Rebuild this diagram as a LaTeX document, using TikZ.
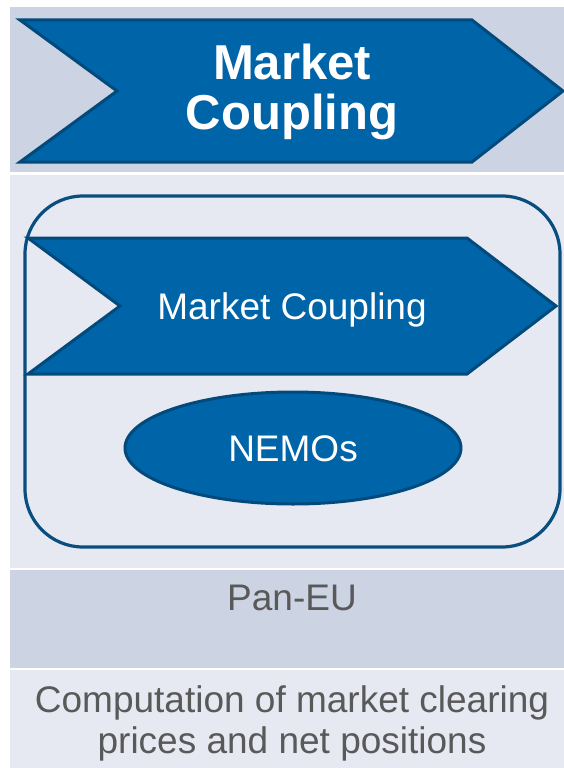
\documentclass[tikz,border=0pt]{standalone}
\usepackage{fontspec}
\setmainfont{Liberation Sans}
\usetikzlibrary{shapes.geometric}
\definecolor{rowdark}{RGB}{204,211,226}
\definecolor{rowlight}{RGB}{230,233,241}
\definecolor{chevfill}{RGB}{0,100,168}
\definecolor{chevline}{RGB}{2,74,124}
\definecolor{framecol}{RGB}{10,78,128}
\definecolor{graytext}{RGB}{89,89,89}
\tikzset{
  rowbox/.style={draw=none},
  chevron/.style={fill=chevfill,draw=chevline,line width=3pt,line join=miter},
  toptext/.style={anchor=base,inner sep=0pt,text=white,font=\fontsize{49}{49}\selectfont\bfseries},
  whitetext/.style={anchor=base,inner sep=0pt,text=white,font=\fontsize{37}{41}\selectfont},
  graylabel/.style={anchor=base,inner sep=0pt,text=graytext,font=\fontsize{37}{41}\selectfont},
  framebox/.style={draw=framecol,line width=3.2pt,rounded corners=58pt},
  nemo/.style={ellipse,fill=chevfill,draw=chevline,line width=3pt,minimum width=336pt,minimum height=112pt,inner sep=0pt}
}
\begin{document}
\begin{tikzpicture}[x=1pt,y=-1pt]
\useasboundingbox[fill=white] (0,0) rectangle (564,768);
% row backgrounds
\fill[rowdark]  (10,7)   rectangle (564,172);
\fill[rowlight] (10,175) rectangle (564,568);
\fill[rowdark]  (10,570) rectangle (564,668);
\fill[rowlight] (10,670) rectangle (564,768);
% top chevron
\draw[chevron] (20,20) -- (472,20) -- (563,91) -- (472,162) -- (20,162) -- (117,91) -- cycle;
\node[toptext] (topA) at (292,80) {Market};
\node[toptext] (topB) at (292,129) {Coupling};
% frame
\draw[framebox] (25,196) rectangle (560,547);
% inner chevron
\draw[chevron] (28,238) -- (467,238) -- (556,306) -- (467,374) -- (28,374) -- (120,306) -- cycle;
\node[whitetext] (mc) at (292,319) {Market Coupling};
% NEMOs ellipse
\node[nemo] (nemos) at (293,448) {};
\node[whitetext] (nemotext) at (293,461) {NEMOs};
% lower rows
\node[graylabel] (pan) at (292,610) {Pan-EU};
\node[graylabel] (comp1) at (292,712) {Computation of market clearing};
\node[graylabel] (comp2) at (292,753) {prices and net positions};
\end{tikzpicture}
\end{document}
